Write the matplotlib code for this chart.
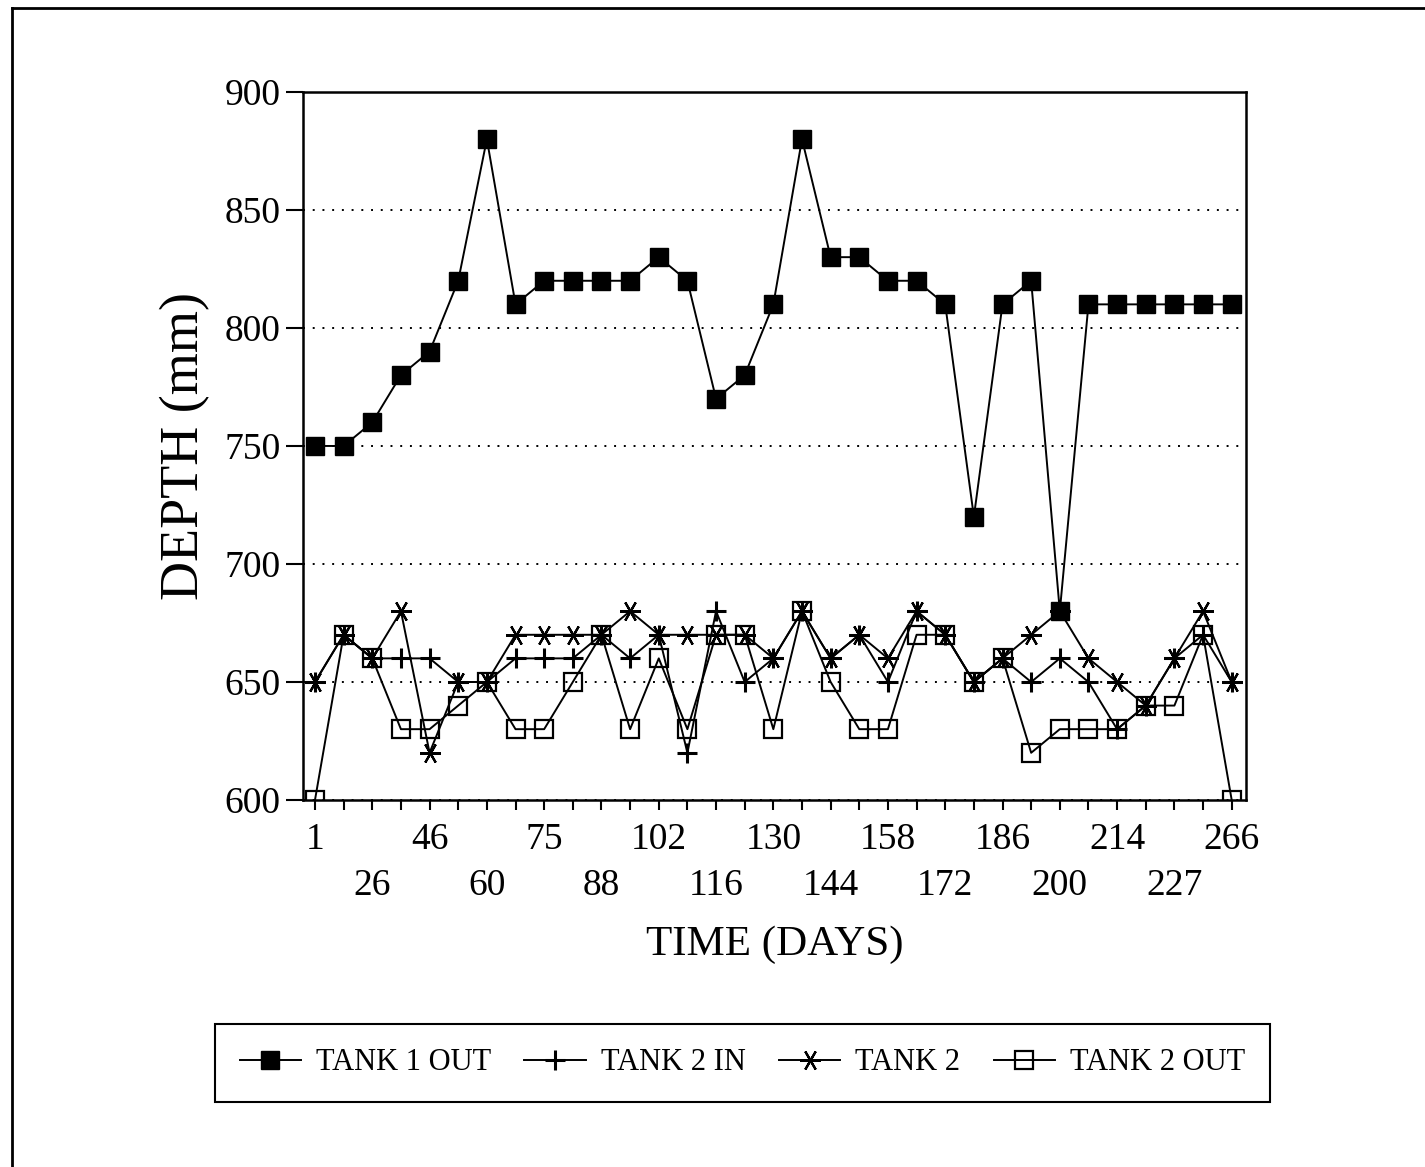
import numpy as np
import matplotlib.pyplot as plt
from matplotlib.lines import Line2D

days = ["1", "", "26", "", "46", "", "60", "", "75", "", "88", "", "102", "",
        "116", "", "130", "", "144", "", "158", "", "172", "", "186", "",
        "200", "", "214", "", "227", "", "266"]

tank1_out = [750, 750, 760, 780, 790, 820, 880, 810, 820, 820, 820, 820, 830,
             820, 770, 780, 810, 880, 830, 830, 820, 820, 810, 720, 810, 820,
             680, 810, 810, 810, 810, 810, 810]
tank2_in = [650, 670, 660, 660, 660, 650, 650, 660, 660, 660, 670, 660, 670,
            620, 680, 650, 660, 680, 660, 670, 650, 680, 670, 650, 660, 650,
            660, 650, 630, 640, 660, 670, 650]
tank2 = [650, 670, 660, 680, 620, 650, 650, 670, 670, 670, 670, 680, 670,
         670, 670, 670, 660, 680, 660, 670, 660, 680, 670, 650, 660, 670,
         680, 660, 650, 640, 660, 680, 650]
tank2_out = [600, 670, 660, 630, 630, 640, 650, 630, 630, 650, 670, 630, 660,
             630, 670, 670, 630, 680, 650, 630, 630, 670, 670, 650, 660, 620,
             630, 630, 630, 640, 640, 670, 600]

plt.rcParams["font.family"] = ["Liberation Serif", "DejaVu Serif"]

fig = plt.figure(figsize=(14.25, 11.67), dpi=100)
ax = fig.add_axes([0.2126, 0.3145, 0.6618, 0.6067])

x = np.arange(len(tank1_out))
lw = 1.4
ax.plot(x, tank1_out, color="black", lw=lw, marker="s", ms=13,
        mfc="black", mec="black", label="TANK 1 OUT", zorder=5)
ax.plot(x, tank2_in, color="black", lw=lw, marker="+", ms=15, mew=2.2,
        label="TANK 2 IN", zorder=4)
ax.plot(x, tank2, color="black", lw=lw, marker=(6, 2, 90), ms=15, mew=1.6,
        label="TANK 2", zorder=4)
ax.plot(x, tank2_out, color="black", lw=lw, marker="s", ms=13, mew=1.6,
        mfc="none", mec="black", label="TANK 2 OUT", zorder=4)

ax.set_xlim(-0.42, 32.5)
ax.set_ylim(600, 900)
ax.set_yticks(np.arange(600, 901, 50))
ax.set_xticks(x)
labels = []
row = 0
for lab in days:
    if lab == "":
        labels.append("")
    else:
        labels.append(lab if row % 2 == 0 else "\n" + lab)
        row += 1
ax.set_xticklabels(labels, linespacing=1.45)

ax.tick_params(axis="x", direction="out", length=7, width=1.5, pad=9,
               labelsize=27)
ax.tick_params(axis="y", direction="out", length=12, width=1.5, pad=4,
               labelsize=27)
for s in ax.spines.values():
    s.set_linewidth(1.8)

ax.yaxis.grid(True, linestyle=(0, (1, 4)), color="black", lw=1.4)
ax.set_axisbelow(True)

ax.set_xlabel("TIME (DAYS)", fontsize=31, labelpad=16)
ax.set_ylabel("DEPTH (mm)", fontsize=39, labelpad=10)

fig.legend(loc="center", ncol=4, mode="expand",
           bbox_to_anchor=(0.151, 0.0557, 0.740, 0.067),
           fontsize=22, frameon=True, fancybox=False, edgecolor="black",
           framealpha=1, handlelength=2.0, handletextpad=0.5,
           columnspacing=0.8, borderpad=0.8, borderaxespad=0)
fig.legends[0].get_frame().set_linewidth(1.5)

# outer border (top and left visible in the scan)
fig.add_artist(Line2D([12 / 1425, 1.0], [1 - 8 / 1167, 1 - 8 / 1167],
                      transform=fig.transFigure, color="black", lw=2))
fig.add_artist(Line2D([12 / 1425, 12 / 1425], [0.0, 1 - 8 / 1167],
                      transform=fig.transFigure, color="black", lw=2))

fig.savefig("out.png", dpi=100)
